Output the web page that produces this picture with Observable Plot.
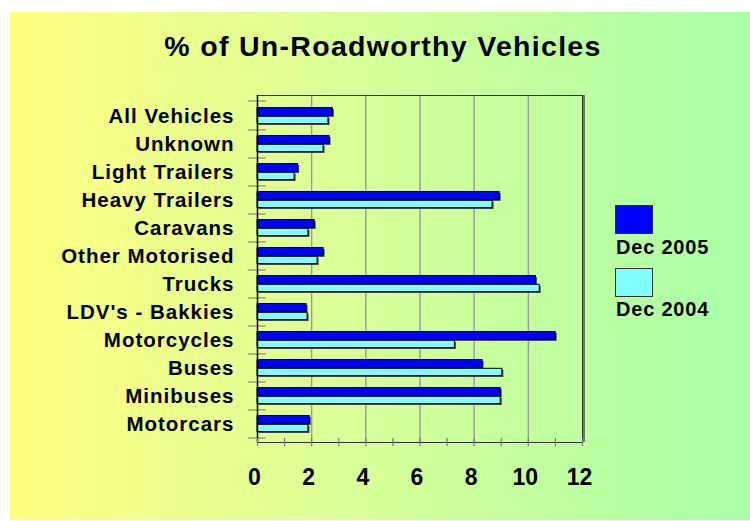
<!DOCTYPE html>
<html>
<head>
<meta charset="utf-8">
<script src="https://cdn.jsdelivr.net/npm/d3@7"></script>
<script src="https://cdn.jsdelivr.net/npm/@observablehq/plot@0.6"></script>
<style>
  html, body { margin: 0; padding: 0; background: #ffffff; }
  #wrap { position: relative; width: 750px; height: 521px; overflow: hidden; font-family: "Liberation Sans", Arial, sans-serif; }
  #bg { position: absolute; left: 10px; top: 12px; width: 740px; height: 508px;
        background: linear-gradient(to right, #FFFF80 0%, #DAFF98 45%, #A8FFA8 100%); }
  #title { position: absolute; left: 0; width: 766px; top: 30px; text-align: center;
           font-size: 28.5px; font-weight: bold; letter-spacing: 1.3px; color: #000; }
  #chart { position: absolute; left: 0; top: 0; }
  .lg-box { position: absolute; left: 615px; width: 36px; height: 27px; border: 1px solid #333; }
  .lg-txt { position: absolute; left: 616px; font-size: 20px; font-weight: bold; letter-spacing: 0.8px; color: #000; }
  #chart svg g[aria-label="y-axis tick label"] text { letter-spacing: 1px; }
</style>
</head>
<body>
<div id="wrap">
  <div id="bg"></div>
  <div id="chart"></div>
  <div id="title">% of Un-Roadworthy Vehicles</div>
  <div id="legend"></div>
</div>
<script>
const categories = ["All Vehicles", "Unknown", "Light Trailers", "Heavy Trailers", "Caravans",
  "Other Motorised", "Trucks", "LDV's - Bakkies", "Motorcycles", "Buses", "Minibuses", "Motorcars"];
const dec2005 = [2.78, 2.66, 1.50, 8.94, 2.11, 2.44, 10.28, 1.81, 11.01, 8.31, 8.98, 1.93];
const dec2004 = [2.62, 2.44, 1.37, 8.68, 1.88, 2.22, 10.42, 1.85, 7.29, 9.04, 8.98, 1.88];
const seriesNames = ["Dec 2005", "Dec 2004"];
const seriesColors = ["#0000FF", "#80FFFF"];
const xTicks = [0, 2, 4, 6, 8, 10, 12];
const minorTicks = [0, 1, 2, 3, 4, 5, 6, 7, 8, 9, 10, 11, 12];

const rows2005 = categories.map((c, i) => ({category: c, value: dec2005[i]}));
const rows2004 = categories.map((c, i) => ({category: c, value: dec2004[i]}));

const W = 750, H = 521, mL = 257, mR = 168, mT = 95, mB = 79;
const bw = (H - mT - mB) / categories.length;

const shadow = {fill: "#444", dx: 1.5, dy: 1.5};
const top2005 = {insetTop: 6.5, insetBottom: 13.6};
const top2004 = {insetTop: 15.3, insetBottom: 5.5};

const chart = Plot.plot({
  width: W, height: H,
  marginLeft: mL, marginRight: mR, marginTop: mT, marginBottom: mB,
  style: {background: "transparent", fontFamily: "'Liberation Sans', Arial, sans-serif", color: "#000", overflow: "visible"},
  x: {domain: [0, 12], axis: null, label: null},
  y: {domain: categories, padding: 0, axis: null, label: null},
  marks: [
    Plot.ruleX(xTicks.slice(1, -1), {stroke: "#999", strokeWidth: 1.4}),
    Plot.ruleX([12], {stroke: "#555", strokeWidth: 1.5, dx: 1.5}),
    Plot.frame({stroke: "#333", strokeWidth: 1}),
    Plot.barX(rows2005, {x: "value", y: "category", ...top2005, ...shadow}),
    Plot.barX(rows2004, {x: "value", y: "category", ...top2004, ...shadow}),
    Plot.barX(rows2005, {x: "value", y: "category", ...top2005, fill: seriesColors[0], stroke: "#000", strokeWidth: 1}),
    Plot.barX(rows2004, {x: "value", y: "category", ...top2004, fill: seriesColors[1], stroke: "#000", strokeWidth: 1}),
    Plot.ruleY(categories, {y: d => d, x1: -0.34, x2: 0.33, dy: bw / 2, stroke: "#888", strokeWidth: 1.2}),
    Plot.ruleY(categories.slice(0, 1), {y: d => d, x1: -0.34, x2: 0.33, dy: -bw / 2, stroke: "#888", strokeWidth: 1.2}),
    Plot.ruleX([0], {stroke: "#000", strokeWidth: 1.5}),
    Plot.axisX({ticks: minorTicks, tickSize: 8, dy: -4, tickFormat: () => "", stroke: "#777", strokeWidth: 1.2, label: null}),
    Plot.axisX({ticks: xTicks, tickSize: 0, tickPadding: 26, dx: -3, fontSize: 23, fontWeight: "bold", tickFormat: d => String(d), label: null}),
    Plot.axisY({tickSize: 0, tickPadding: 23, dy: 1, fontSize: 20.5, fontWeight: "bold", label: null})
  ]
});
document.getElementById("chart").appendChild(chart);

const legend = document.getElementById("legend");
const boxTops = [205, 268];
const textTops = [236, 298];
seriesNames.forEach((name, i) => {
  const box = document.createElement("div");
  box.className = "lg-box";
  box.style.top = boxTops[i] + "px";
  box.style.background = seriesColors[i];
  legend.appendChild(box);
  const t = document.createElement("div");
  t.className = "lg-txt";
  t.style.top = textTops[i] + "px";
  t.textContent = name;
  legend.appendChild(t);
});
</script>
</body>
</html>
